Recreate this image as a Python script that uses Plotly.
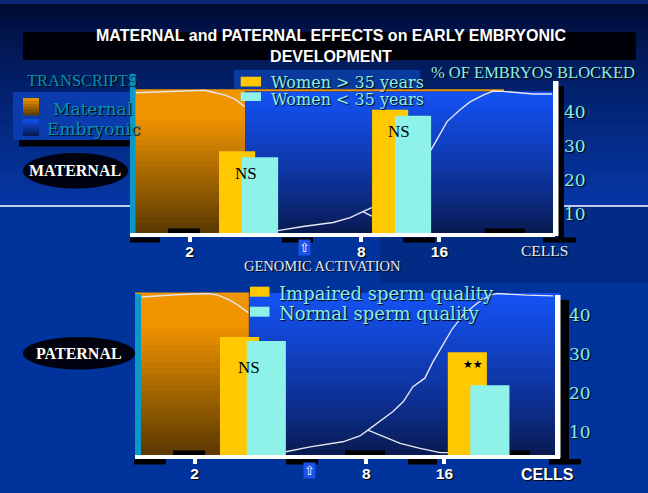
import plotly.graph_objects as go

W, H = 648, 493

# ---------------- data ----------------
stage_labels = ["2", "8", "16"]
stage_pos = [14.0, 54.4, 72.8]          # developmental time (arbitrary units)
activation_pos = 41.0                    # genomic activation
maternal_zone_end = [27.1, 26.8]         # end of maternal-transcript zone (top, bottom panel)

# maternal effect (top panel) - % of embryos blocked
women_over35_x = [25.2, 61.2]
women_over35 = [28.4, 40.6]
women_under35_x = [30.6, 66.6]
women_under35 = [26.6, 38.8]
maternal_sig = ["NS", "NS"]

# paternal effect (bottom panel)
impaired_x = [24.6, 78.2]
impaired = [34.4, 30.5]
normal_x = [30.9, 83.5]
normal = [33.4, 22.0]
paternal_sig = ["NS", "★★"]

# transcript curves (visible parts only)
top_mat_x = [1.4, 8.9, 14.6, 17.6, 20.0, 22.4, 24.7, 27.0, None, 54.8, 56.9]
top_mat_y = [45.6, 45.9, 46.2, 46.3, 45.6, 44.9, 43.7, 41.5, None, 10.6, 9.3]
top_emb_x = [34.8, 40.7, 47.8, 51.8, 54.8, 56.9, None, 70.8, 72.9, 74.6, 77.6, 80.0, 83.1, 85.4, 87.8, 91.8, 94.8, 99.3]
top_emb_y = [5.0, 6.2, 7.4, 8.8, 10.6, 11.8, None, 28.7, 33.6, 37.1, 40.5, 42.9, 44.9, 46.1, 46.0, 45.6, 45.2, 45.2]
bot_mat_x = [1.6, 9.4, 17.2, 19.5, 21.9, 24.2, 26.6, None, 54.8, 58.4, 62.4, 67.1, 71.8, 73.6]
bot_mat_y = [44.7, 45.3, 45.6, 45.2, 44.1, 42.7, 40.7, None, 10.4, 8.7, 7.0, 5.7, 4.6, 4.6]
bot_emb_x = [35.5, 41.2, 48.9, 52.9, 54.8, 60.7, 63.1, 65.4, 68.2, 70.1, 72.2, 74.6, 77.2, 80.5, 83.5, 85.2, 92.2, 98.4]
bot_emb_y = [4.85, 6.1, 7.4, 8.9, 10.4, 15.2, 17.7, 21.6, 23.8, 28.0, 31.9, 36.4, 40.1, 43.1, 45.2, 45.6, 45.2, 45.0]

y_ticks = [10, 20, 30, 40]

# ---------------- helpers ----------------
def px(x):
    return x / W

def py(y):
    return 1 - y / H

def hexrgb(c):
    c = c.lstrip("#")
    return tuple(int(c[i:i + 2], 16) for i in (0, 2, 4))

def lerp(c1, c2, t):
    a, b = hexrgb(c1), hexrgb(c2)
    return "rgb(%d,%d,%d)" % tuple(round(a[i] + (b[i] - a[i]) * t) for i in range(3))

shapes = []
annotations = []

def rect(x0, y0, x1, y1, color, layer="below"):
    shapes.append(dict(type="rect", xref="paper", yref="paper",
                       x0=px(x0), x1=px(x1), y0=py(y1), y1=py(y0),
                       fillcolor=color, line_width=0, layer=layer))

def grad_rect(x0, y0, x1, y1, ctop, cbot, n=12, layer="below"):
    h = (y1 - y0) / n
    for i in range(n):
        rect(x0, y0 + i * h, x1, min(y1, y0 + (i + 1) * h + 1.5), lerp(ctop, cbot, (i + 0.5) / n), layer)

def text(x, y, s, size, color, family="Liberation Serif", xanchor="center",
         weight="normal", shadow=None):
    f = dict(family=family, size=size, color=color, weight=weight)
    if shadow:
        f["shadow"] = shadow
    annotations.append(dict(xref="paper", yref="paper", x=px(x), y=py(y), text=s,
                            showarrow=False, xanchor=xanchor, yanchor="middle", font=f))

SH = "1px 1px 1px #000"

# ---------------- page background ----------------
nb = 30
for i in range(nb):
    t = ((i + 0.5) / nb) ** 0.75
    rect(0, 206 * i / nb, W, min(206, 206 * (i + 1) / nb + 2), lerp("#00082a", "#0537a6", t))
rect(380, 206, W, 283, "#022b86")
rect(0, 0, W, 4, "#0a2a78")
shapes.append(dict(type="line", xref="paper", yref="paper", x0=0, x1=1, y0=py(206), y1=py(206),
                   line=dict(color="white", width=1.5), layer="below"))

# title bar
rect(23, 32, 636, 60, "#000008")
text(331, 46, "MATERNAL and PATERNAL EFFECTS on EARLY EMBRYONIC<br>DEVELOPMENT", 16, "white",
     "Liberation Sans", weight="bold")

# top-left transcript legend
text(25, 80, "TRANSCRIPTS", 16.5, "#0b8fb3", xanchor="left", shadow=SH)
rect(19, 140, 135, 146.5, "black")
rect(13, 92, 130, 140, "#0a3cae")
grad_rect(23, 98, 39, 115.5, "#f09400", "#5a3800", n=6)
grad_rect(23, 119, 39, 136, "#1452f5", "#08184a", n=6)
text(51, 109, "Maternal", 17, "#0b8fb3", "DejaVu Serif", xanchor="left", shadow=SH)
text(45, 128.5, "Embryonic", 17, "#0b8fb3", "DejaVu Serif", xanchor="left", shadow=SH)

# top legend box
rect(234, 70, 420, 89, "#0b3a9e")

# ---------------- panels ----------------
panels = [
    dict(xa="x", ya="y", yr=[4.3, 46.6], zone=maternal_zone_end[0], blue_top=0.985),
    dict(xa="x2", ya="y2", yr=[4.0, 45.9], zone=maternal_zone_end[1], blue_top=0.997),
]

N = 28
for p in panels:
    for i in range(N):
        t0, t1 = i / N, min(1.0, (i + 1) / N + 0.012)
        shapes.append(dict(type="rect", xref=p["xa"], yref=p["ya"] + " domain",
                           x0=0, x1=p["zone"], y0=t0, y1=t1,
                           fillcolor=lerp("#5a3800", "#f09400", min(1, ((i + 0.5) / N) * 1.25)),
                           line_width=0, layer="below"))
        shapes.append(dict(type="rect", xref=p["xa"], yref=p["ya"] + " domain",
                           x0=p["zone"], x1=100, y0=t0 * p["blue_top"], y1=t1 * p["blue_top"],
                           fillcolor=lerp("#08184a", "#1452f5", ((i + 0.5) / N) ** 0.8),
                           line_width=0, layer="below"))

shapes.append(dict(type="line", xref="x", yref="y domain", x0=maternal_zone_end[0], x1=88,
                   y0=0.993, y1=0.993, line=dict(color="#f09400", width=2), layer="below"))

# left cyan bars
rect(130, 74, 135.5, 233, "#0a98c8", layer="above")
rect(135, 294, 141, 455, "#0a98c8", layer="above")
# right white bars + shadows
rect(558, 86, 564, 241, "#000005", layer="above")
rect(553, 81, 558.5, 236, "white", layer="above")
rect(560, 300, 569, 463, "#000005", layer="above")
rect(555, 295, 560.5, 458, "white", layer="above")
# black segments along the x axes
for a, b in [(130, 160), (282, 313), (403, 435), (543, 576)]:
    rect(a, 237.5, b, 242.5, "black", layer="above")
for a, b in [(168, 200), (485, 525)]:
    rect(a, 228.5, b, 233, "black", layer="above")
for a, b in [(134, 166), (286, 318), (408, 437), (549, 581)]:
    rect(a, 459, b, 464.5, "black", layer="above")
for a, b in [(173, 205), (345, 385), (510, 530)]:
    rect(a, 450.5, b, 455, "black", layer="above")

# panel labels (ellipses)
shapes.append(dict(type="circle", xref="paper", yref="paper", x0=px(23), x1=px(128),
                   y0=py(188.5), y1=py(153), fillcolor="#00030f", line_width=0, layer="above"))
shapes.append(dict(type="circle", xref="paper", yref="paper", x0=px(23), x1=px(135),
                   y0=py(369.5), y1=py(337), fillcolor="#00030f", line_width=0, layer="above"))
text(75, 170, "MATERNAL", 16, "white", weight="bold", shadow=SH)
text(79, 353.5, "PATERNAL", 16, "white", weight="bold", shadow=SH)

# legends of the bar series
YEL, CYA = "#ffc800", "#8ef2e8"
rect(240.7, 76.7, 261, 86.5, YEL, layer="above")
rect(240.7, 92.3, 261, 101, CYA, layer="above")
text(269, 83, "Women &gt; 35 years", 16, "#8eeee4", "DejaVu Serif", xanchor="left", shadow=SH)
text(269, 99.5, "Women &lt; 35 years", 16, "#8eeee4", "DejaVu Serif", xanchor="left", shadow=SH)
rect(250, 286.7, 269.5, 296.7, YEL, layer="above")
rect(250, 306.7, 269.5, 316.7, CYA, layer="above")
text(277, 293.5, "Impaired sperm quality", 18, "#8eeee4", "DejaVu Serif", xanchor="left", shadow=SH)
text(277, 313, "Normal sperm quality", 18, "#8eeee4", "DejaVu Serif", xanchor="left", shadow=SH)

# axis titles / extra labels
text(429, 73, "% OF EMBRYOS BLOCKED", 16.5, "#8eeee4", xanchor="left", shadow=SH)
text(544, 250.5, "CELLS", 15.5, "#e8eef8", shadow=SH)
text(547, 474, "CELLS", 16, "white", "Liberation Sans", weight="bold", shadow=SH)
text(322, 266, "GENOMIC ACTIVATION", 14.5, "#e4e8f0", shadow=SH)

# genomic activation arrows (on the x axes)
for xa, yy in [("x", 247.5), ("x2", 470.5)]:
    annotations.append(dict(xref=xa, yref="paper", x=activation_pos, y=py(yy), text="⇧",
                            showarrow=False, xanchor="center", yanchor="middle",
                            bgcolor="#1a52ea", borderpad=0,
                            font=dict(family="DejaVu Sans", size=13, color="white")))

# significance labels
for xs1, xs2, v, sig, xa, ya, ys, xs in [
    (women_over35_x, women_under35_x, women_over35, maternal_sig, "x", "y", [-22, -22], [-3, -3]),
    (impaired_x, normal_x, impaired, paternal_sig, "x2", "y2", [-30, -12], [-4, -6]),
]:
    for i in range(len(v)):
        is_star = "★" in sig[i]
        annotations.append(dict(xref=xa, yref=ya, x=(xs1[i] + xs2[i]) / 2, y=v[i], text=sig[i],
                                showarrow=False, xanchor="center", yanchor="middle",
                                yshift=ys[i], xshift=xs[i],
                                font=dict(family="DejaVu Sans" if is_star else "Liberation Serif",
                                          size=11 if is_star else 17, color="black")))

# ---------------- traces ----------------
fig = go.Figure()
curve = dict(color="#e6e6f0", width=1.4)
for x, y, xa, ya in [(top_mat_x, top_mat_y, "x", "y"), (top_emb_x, top_emb_y, "x", "y"),
                     (bot_mat_x, bot_mat_y, "x2", "y2"), (bot_emb_x, bot_emb_y, "x2", "y2")]:
    fig.add_trace(go.Scatter(x=x, y=y, mode="lines", line=curve, connectgaps=False,
                             xaxis=xa, yaxis=ya, showlegend=False, hoverinfo="skip"))

fig.add_trace(go.Bar(x=women_over35_x, y=women_over35, width=8.5, marker=dict(color=YEL, line_width=0),
                     name="Women > 35 years", xaxis="x", yaxis="y", showlegend=False))
fig.add_trace(go.Bar(x=women_under35_x, y=women_under35, width=8.5, marker=dict(color=CYA, line_width=0),
                     name="Women < 35 years", xaxis="x", yaxis="y", showlegend=False))
fig.add_trace(go.Bar(x=impaired_x, y=impaired, width=9.2, marker=dict(color=YEL, line_width=0),
                     name="Impaired sperm quality", xaxis="x2", yaxis="y2", showlegend=False))
fig.add_trace(go.Bar(x=normal_x, y=normal, width=9.2, marker=dict(color=CYA, line_width=0),
                     name="Normal sperm quality", xaxis="x2", yaxis="y2", showlegend=False))

xcommon = dict(range=[0, 100], showgrid=False, zeroline=False, showline=True, linecolor="white",
               linewidth=4, ticks="outside", ticklen=5, tickwidth=4, tickcolor="white",
               tickvals=stage_pos, ticktext=stage_labels, ticklabelstandoff=-4,
               tickfont=dict(family="Liberation Sans", size=15.5, color="white", weight="bold", shadow=SH))
ycommon = dict(side="right", showgrid=False, zeroline=False, showline=False, ticks="",
               tickvals=y_ticks, ticklabelstandoff=8,
               tickfont=dict(family="DejaVu Serif", size=17, color="#8eeee4", shadow=SH))

fig.update_layout(
    width=W, height=H, autosize=False,
    margin=dict(l=0, r=0, t=0, b=0),
    paper_bgcolor="#00339c", plot_bgcolor="rgba(0,0,0,0)",
    barmode="overlay", showlegend=False,
    xaxis=dict(domain=[px(130), px(555)], anchor="y", **xcommon),
    yaxis=dict(domain=[py(233), py(89.3)], range=panels[0]["yr"], anchor="x", **ycommon),
    xaxis2=dict(domain=[px(135), px(560)], anchor="y2", **xcommon),
    yaxis2=dict(domain=[py(455), py(292.4)], range=panels[1]["yr"], anchor="x2", **ycommon),
    shapes=shapes, annotations=annotations,
)

fig.write_html("out.html", config={"displayModeBar": False},
               post_script="document.body.style.margin='0';")
